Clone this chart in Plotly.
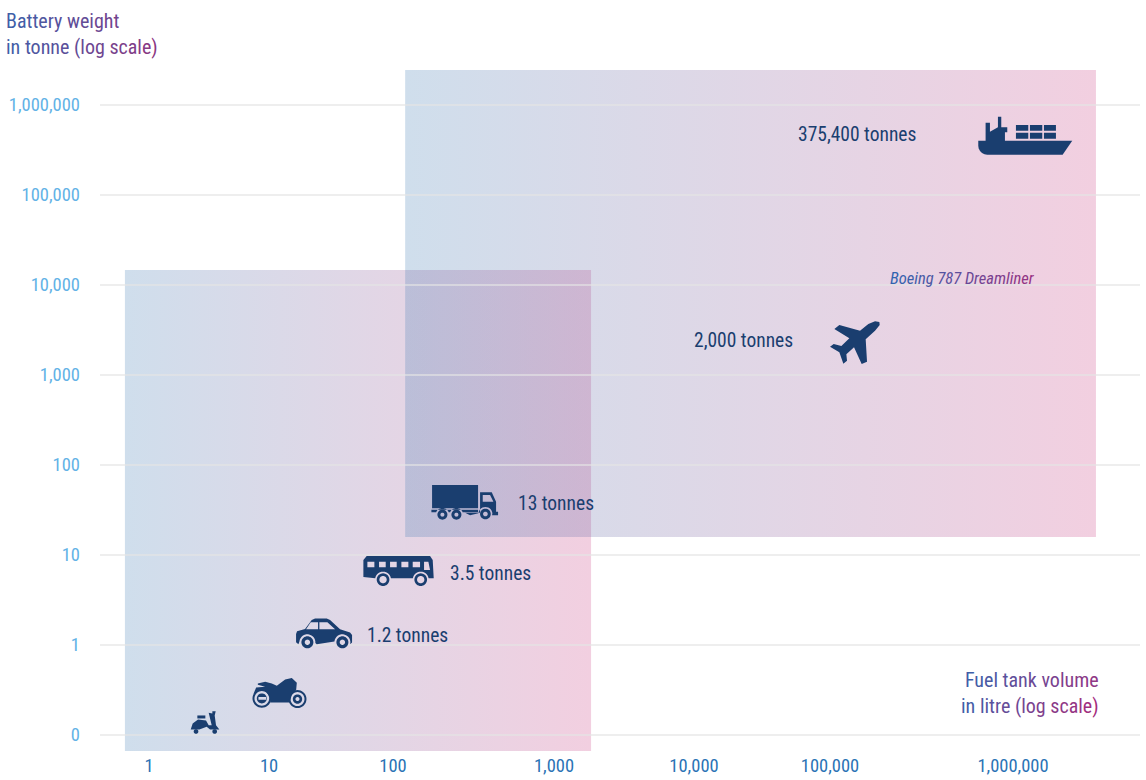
import math
import numpy as np
import plotly.graph_objects as go

# ---------- data ----------
x_tick_litres = [1, 10, 100, 1000, 10000, 100000, 1000000]
x_tick_labels = ["1", "10", "100", "1,000", "10,000", "100,000", "1,000,000"]
x_tick_slots = [149, 269, 393, 554, 694, 830, 1013]  # the source's uneven log axis

y_tick_values = [0.1, 1, 10, 100, 1000, 10000, 100000, 1000000]
y_tick_labels = ["0", "1", "10", "100", "1,000", "10,000", "100,000", "1,000,000"]

vehicles = ["scooter", "motorbike", "car", "bus", "truck", "plane", "ship"]
fuel_litres = [2.93, 12.3, 27.8, 108, 279, 137000, 1167000]
battery_tonnes = [0.139, 0.295, 1.35, 6.64, 38.5, 2286, 456000]
weight_labels = [None, None, "1.2 tonnes", "3.5 tonnes", "13 tonnes", "2,000 tonnes", "375,400 tonnes"]

band_names = ["road", "air and sea"]
band_litres = [[0.63, 1840], [119, 2840000]]
band_tonnes = [[0.0664, 14680], [15.8, 2450000]]

# ---------- styling ----------
W, H = 1146, 780
ML, MR, MT, MB = 100, 6, 60, 28
NAVY = "#1a3e6f"
FONT = "Roboto Condensed"
LABEL_SIZE = 19.5
TICK_SIZE = 18.5
TITLE_SIZE = 20
BLUE_A = "rgba(63,123,179,0.25)"
PINK_A = "rgba(203,63,131,0.25)"


def x_scale(litres):
    """Uneven log scale of the source, extrapolated past the last tick."""
    lg = np.log10(litres)
    logs = np.log10(x_tick_litres)
    if lg <= logs[0]:
        return x_tick_slots[0] + (lg - logs[0]) * (x_tick_slots[1] - x_tick_slots[0])
    if lg >= logs[-1]:
        return x_tick_slots[-1] + (lg - logs[-1]) * (x_tick_slots[-1] - x_tick_slots[-2])
    return float(np.interp(lg, logs, x_tick_slots))


def blend(c0, c1, t):
    return "#%02x%02x%02x" % tuple(round(a + (b - a) * t) for a, b in zip(c0, c1))


def gradient_text(lines, c0, c1, italic=False):
    width = max(len(l) for l in lines)
    out = []
    for line in lines:
        parts = []
        i = 0
        while i < len(line):
            j = i + 1
            while j < len(line) and line[j] == " ":
                j += 1
            t = i / max(width - 1, 1)
            parts.append('<span style="color:%s">%s</span>' % (blend(c0, c1, t), line[i:j]))
            i = j
        out.append("".join(parts))
    s = "<br>".join(out)
    return "<i>%s</i>" % s if italic else s


# ---------- icons: drawn in local units, 3 units = 1 px, y down ----------
def arc(cx, cy, r, a0, a1, n=14):
    return [(cx + r * math.cos(math.radians(a0 + (a1 - a0) * k / n)),
             cy + r * math.sin(math.radians(a0 + (a1 - a0) * k / n))) for k in range(n + 1)]


def circle(cx, cy, r):
    return arc(cx, cy, r, 0, 360, 36)[:-1]


def box(x0, y0, x1, y1):
    return [(x0, y0), (x1, y0), (x1, y1), (x0, y1)]


def ring(cx, cy, r0, r1):
    return [circle(cx, cy, r0), circle(cx, cy, r1)]


ICONS = {
    "ship": ((736, 137), [
        [[(595, 152), (877, 152), (848, 194), (622, 194)] + arc(622, 167, 27, 90, 180, 5)[1:] + [(595, 167)]],
        [[(617, 153), (617, 98), (630, 98), (630, 125), (654, 112), (654, 80), (664, 80), (664, 112),
          (682, 112), (682, 127), (675, 127), (675, 153)]],
        [box(708, 105, 745, 122), box(750, 105, 787, 122), box(792, 105, 828, 122),
         box(708, 128, 745, 146), box(750, 128, 787, 146), box(792, 128, 828, 146)],
    ]),
    "plane": ((525, 248), [
        [[(598, 186), (599, 195), (585, 212), (557, 238), (561, 305), (545, 312), (522, 262), (499, 283),
          (501, 302), (490, 311), (478, 277), (450, 260), (461, 252), (484, 258), (508, 235), (463, 207),
          (478, 195), (540, 212), (565, 192), (585, 184)]],
    ]),
    "truck": ((344, 97), [
        [box(246, 45, 384, 115)],
        [[(244, 119), (384, 119), (384, 127), (340, 127)] + arc(319, 134, 20, -20, -160)
         + [(298, 127)] + arc(277, 134, 20, -20, -160) + [(244, 127)]],
        [[(390, 67), (425, 67), (438, 95), (438, 125), (444, 125), (444, 136), (426, 136)]
         + arc(406, 132, 21, -5, -175) + [(360, 136), (345, 128), (390, 128)],
         [(398, 75), (420, 75), (430, 95), (398, 95)]],
        ring(277, 134, 15, 6), ring(319, 134, 15, 6), ring(406, 132, 16, 7),
    ]),
    "bus": ((145, 303), [
        [[(40, 270), (50, 258), (240, 258), (248, 270), (251, 325), (235, 325)]
         + arc(212, 329, 24, -10, -170) + [(189, 325), (122, 325)]
         + arc(99, 329, 24, -10, -170) + [(76, 325), (40, 321)],
         box(52, 275, 73, 292), box(87, 275, 107, 292), box(120, 275, 140, 292),
         box(154, 275, 175, 292), box(188, 275, 210, 292),
         [(222, 275), (235, 275), (240, 300), (222, 300)]],
        ring(99, 329, 19, 11), ring(212, 329, 19, 11),
    ]),
    "car": ((462, 70), [
        [[(378, 72), (381, 64), (405, 57), (425, 30), (435, 26), (470, 26), (480, 30), (510, 58),
          (540, 68), (546, 75), (546, 98), (540, 103)] + arc(517, 97, 24, 5, -175)
         + [(440, 103)] + arc(412, 97, 24, 5, -175) + [(385, 103), (378, 97)],
         [(422, 37), (444, 37), (444, 58), (408, 58)],
         [(448, 37), (472, 37), (495, 58), (448, 58)]],
        ring(412, 97, 18, 8), ring(517, 97, 18, 8),
    ]),
    "motorbike": ((330, 248), [
        ring(275, 265, 28, 22),
        [circle(275, 265, 15), box(265, 261, 288, 269)],
        ring(382, 267, 27, 21),
        ring(382, 267, 14, 6),
        [[(263, 220), (285, 215), (305, 220), (320, 227), (345, 208), (365, 204), (380, 218), (378, 240),
          (365, 255), (358, 277), (300, 277), (300, 262), (285, 240), (265, 240), (250, 252), (258, 232),
          (285, 230), (263, 224)]],
    ]),
    "scooter": ((105, 336), [
        [[(62, 358), (68, 340), (84, 328), (108, 331), (116, 345), (125, 345), (116, 308), (127, 310),
          (127, 303), (137, 303), (134, 316), (138, 345), (148, 358), (120, 358), (110, 350), (88, 358)]],
        [box(82, 316, 106, 325)],
        [circle(78, 364, 7), circle(134, 364, 7)],
    ]),
}


def icon_shapes(name, litres, tonnes):
    (cx, cy), parts = ICONS[name]
    shapes = []
    for part in parts:
        d = ""
        for poly in part:
            pts = ["%.2f,%.2f" % ((px - cx) / 3, -(py - cy) / 3) for px, py in poly]
            d += "M" + " L".join(pts) + " Z "
        shapes.append(dict(
            type="path", path=d.strip(), xref="x", yref="y",
            xsizemode="pixel", ysizemode="pixel",
            xanchor=x_scale(litres), yanchor=tonnes,
            fillcolor=NAVY, fillrule="evenodd", line=dict(width=0), layer="above",
        ))
    return shapes


# ---------- figure ----------
fig = go.Figure()

for name, xs, ys in zip(band_names, band_litres, band_tonnes):
    x0, x1 = x_scale(xs[0]), x_scale(xs[1])
    fig.add_trace(go.Scatter(
        x=[x0, x1, x1, x0, x0], y=[ys[0], ys[0], ys[1], ys[1], ys[0]],
        name=name, mode="none", fill="toself", hoverinfo="skip", showlegend=False,
        fillgradient=dict(type="horizontal", colorscale=[[0, BLUE_A], [1, PINK_A]]),
    ))

# the source's grid lies over the tinted bands, so it is drawn above them
shapes = [dict(type="line", xref="paper", yref="y", x0=0, x1=1, y0=v, y1=v, layer="above",
               line=dict(color="rgba(228,228,228,0.85)", width=1.6)) for v in y_tick_values]
for v, l, t in zip(vehicles, fuel_litres, battery_tonnes):
    shapes += icon_shapes(v, l, t)

annotations = []
label_offsets = {"car": (43, -2), "bus": (52, -2), "truck": (53, -1), "plane": (-161, 2), "ship": (-227, 1)}
for v, l, t, txt in zip(vehicles, fuel_litres, battery_tonnes, weight_labels):
    if txt:
        dx, dy = label_offsets[v]
        annotations.append(dict(
            x=x_scale(l), y=math.log10(t), xref="x", yref="y", xshift=dx, yshift=dy,
            text=txt, showarrow=False, xanchor="left", yanchor="middle",
            font=dict(family=FONT, size=LABEL_SIZE, color=NAVY),
            borderpad=0, borderwidth=0,
        ))

plane_i = vehicles.index("plane")
annotations.append(dict(
    x=x_scale(fuel_litres[plane_i]), y=math.log10(battery_tonnes[plane_i]), xref="x", yref="y",
    xshift=34, yshift=64, showarrow=False, xanchor="left", yanchor="middle", borderpad=0,
    text=gradient_text(["Boeing 787 Dreamliner"], (50, 100, 175), (150, 50, 130), italic=True),
    font=dict(family=FONT, size=16.5, color=NAVY),
))


def paper_x(px):
    return (px - ML) / (W - ML - MR)


def paper_y(py):
    return (H - MB - py) / (H - MT - MB)


annotations.append(dict(
    x=paper_x(5), y=paper_y(8), xref="paper", yref="paper", xanchor="left", yanchor="top",
    align="left", showarrow=False, borderpad=0,
    text=gradient_text(["Battery weight", "in tonne (log scale)"], (63, 95, 168), (140, 55, 130)),
    font=dict(family=FONT, size=TITLE_SIZE, color=NAVY),
))
annotations.append(dict(
    x=paper_x(1100), y=paper_y(667), xref="paper", yref="paper", xanchor="right", yanchor="top",
    align="right", showarrow=False, borderpad=0,
    text=gradient_text(["Fuel tank volume", "in litre (log scale)"], (63, 95, 168), (165, 45, 125)),
    font=dict(family=FONT, size=TITLE_SIZE, color=NAVY),
))

fig.update_layout(
    width=W, height=H, autosize=False,
    margin=dict(l=ML, r=MR, t=MT, b=MB, pad=0),
    paper_bgcolor="white", plot_bgcolor="white", showlegend=False,
    shapes=shapes, annotations=annotations,
    font=dict(family=FONT),
    xaxis=dict(
        range=[ML, W - MR], showgrid=False, zeroline=False, showline=False, ticks="", automargin=False,
        tickmode="array", tickvals=x_tick_slots, ticktext=x_tick_labels,
        tickfont=dict(family=FONT, size=TICK_SIZE, color="#2b73b5"),
    ),
    yaxis=dict(
        type="log", range=[-1 - 17 / 90, -1 + 675 / 90], showgrid=False,
        zeroline=False, showline=False, ticks="", ticklabelstandoff=19, automargin=False,
        tickmode="array", tickvals=y_tick_values, ticktext=y_tick_labels,
        tickfont=dict(family=FONT, size=TICK_SIZE, color="#62b2e6"),
    ),
)

fig.write_html(
    "out.html",
    config={"displayModeBar": False},
    post_script="document.documentElement.style.margin='0';document.body.style.margin='0';document.body.style.overflow='hidden';",
)
